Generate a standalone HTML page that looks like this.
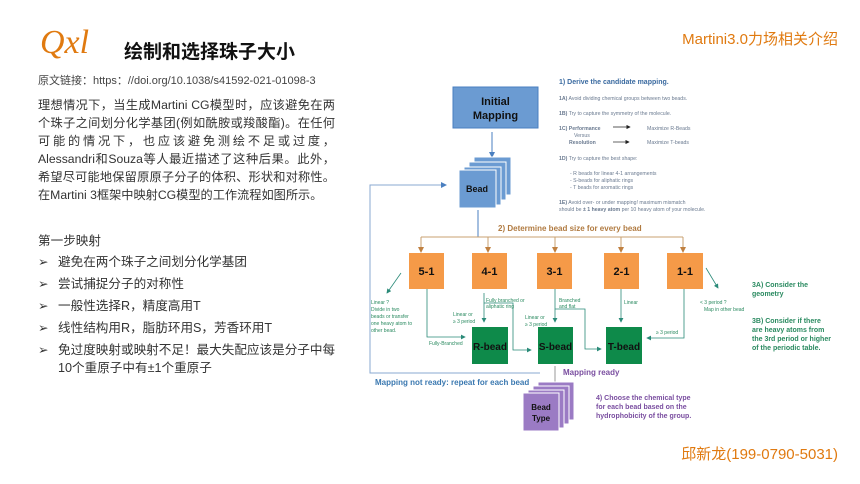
<!DOCTYPE html>
<html><head><meta charset="utf-8"><style>
html,body{margin:0;padding:0;background:#fff;width:860px;height:484px;overflow:hidden;position:relative;font-family:"Liberation Sans","Noto Sans CJK SC",sans-serif;}
.a{position:absolute;white-space:nowrap;}
.p{position:absolute;left:38px;top:96px;width:297px;font-size:12.2px;line-height:18px;color:#333;}
.p div{height:18px;white-space:nowrap;overflow:visible;text-align:justify;text-align-last:justify;}
.li{position:absolute;left:38px;font-size:12.6px;color:#333;}
.li b{font-weight:normal;display:inline-block;width:20px;}
</style></head><body>
<div class="a" style="left:40px;top:24px;font-family:'Liberation Serif',serif;font-style:italic;font-size:34px;color:#e07a10;">Qxl</div>
<div class="a" style="left:124px;top:37px;font-size:19px;font-weight:bold;color:#111;">绘制和选择珠子大小</div>
<div class="a" style="left:38px;top:72px;font-size:11px;color:#444;">原文链接：https：//doi.org/10.1038/s41592-021-01098-3</div>
<div class="p">
<div>理想情况下，当生成Martini CG模型时，应该避免在两</div>
<div>个珠子之间划分化学基团(例如酰胺或羧酸酯)。在任何</div>
<div>可能的情况下，也应该避免测绘不足或过度，</div>
<div>Alessandri和Souza等人最近描述了这种后果。此外，</div>
<div>希望尽可能地保留原原子分子的体积、形状和对称性。</div>
<div style="text-align-last:left">在Martini 3框架中映射CG模型的工作流程如图所示。</div>
</div>
<div class="li" style="top:230px;">第一步映射</div>
<div class="li" style="top:251px;"><b>➢</b>避免在两个珠子之间划分化学基团</div>
<div class="li" style="top:273px;"><b>➢</b>尝试捕捉分子的对称性</div>
<div class="li" style="top:295px;"><b>➢</b>一般性选择R，精度高用T</div>
<div class="li" style="top:317px;"><b>➢</b>线性结构用R，脂肪环用S，芳香环用T</div>
<div class="li" style="top:339px;"><b>➢</b>免过度映射或映射不足！最大失配应该是分子中每</div>
<div class="li" style="top:357px;"><b style="width:20px"></b>10个重原子中有±1个重原子</div>
<div class="a" style="right:22px;top:28px;font-size:15px;color:#e07a10;">Martini3.0力场相关介绍</div>
<div class="a" style="right:22px;top:443px;font-size:15px;color:#e07a10;">邱新龙(199-0790-5031)</div>

<svg class="a" style="left:0;top:0" width="860" height="484" viewBox="0 0 860 484" font-family="Liberation Sans, sans-serif">
<defs>
<marker id="ab" markerWidth="6" markerHeight="6" refX="5" refY="3" orient="auto"><path d="M0,0L6,3L0,6z" fill="#4a7fc0"/></marker>
<marker id="ao" markerWidth="6" markerHeight="6" refX="5" refY="3" orient="auto"><path d="M0,0L6,3L0,6z" fill="#c08040"/></marker>
<marker id="ag" markerWidth="6" markerHeight="6" refX="5" refY="3" orient="auto"><path d="M0,0L6,3L0,6z" fill="#2a8a78"/></marker>
<marker id="ak" markerWidth="6" markerHeight="6" refX="5" refY="3" orient="auto"><path d="M0,0L6,3L0,6z" fill="#222"/></marker>
</defs>
<rect x="453" y="87" width="85" height="41" fill="#6b9bd2" stroke="#4a7fc0"/>
<text x="495.5" y="105" font-size="11" font-weight="bold" text-anchor="middle" fill="#111">Initial</text>
<text x="495.5" y="119" font-size="11" font-weight="bold" text-anchor="middle" fill="#111">Mapping</text>
<line x1="492" y1="132" x2="492" y2="157" stroke="#4a7fc0" marker-end="url(#ab)"/>
<g fill="#6b9bd2" stroke="#fff" stroke-width="1">
<rect x="474" y="157" width="37" height="38"/><rect x="469" y="162" width="37" height="38"/><rect x="464" y="167" width="37" height="38"/><rect x="459" y="170" width="37" height="38"/>
</g>
<text x="477" y="192" font-size="9" font-weight="bold" text-anchor="middle" fill="#111">Bead</text>
<line x1="478" y1="210" x2="478" y2="237" stroke="#4a7fc0"/>
<polyline points="540,373 370,373 370,185 446,185" fill="none" stroke="#8aa8d0" marker-end="url(#ab)"/>
<text x="375" y="385" font-size="8" font-weight="bold" fill="#3a78b0">Mapping not ready: repeat for each bead</text>
<line x1="421" y1="237" x2="683" y2="237" stroke="#c8a070"/>
<text x="498" y="231" font-size="8" font-weight="bold" fill="#b07a40">2) Determine bead size for every bead</text>
<g stroke="#c8a070" marker-end="url(#ao)">
<line x1="421" y1="237" x2="421" y2="252"/><line x1="488" y1="237" x2="488" y2="252"/><line x1="555" y1="237" x2="555" y2="252"/><line x1="621" y1="237" x2="621" y2="252"/><line x1="683" y1="237" x2="683" y2="252"/>
</g>
<g fill="#f59a48">
<rect x="409" y="253" width="35" height="36"/><rect x="472" y="253" width="35" height="36"/><rect x="537" y="253" width="35" height="36"/><rect x="604" y="253" width="35" height="36"/><rect x="667" y="253" width="36" height="36"/>
</g>
<g font-size="11" font-weight="bold" text-anchor="middle" fill="#111">
<text x="426.5" y="275">5-1</text><text x="489.5" y="275">4-1</text><text x="554.5" y="275">3-1</text><text x="621.5" y="275">2-1</text><text x="685" y="275">1-1</text>
</g>
<g fill="#0e8a4a"><rect x="472" y="327" width="36" height="37"/><rect x="538" y="327" width="35" height="37"/><rect x="606" y="327" width="36" height="37"/></g>
<g font-size="10" font-weight="bold" text-anchor="middle" fill="#111">
<text x="490" y="350">R-bead</text><text x="555.5" y="350">S-bead</text><text x="624" y="350">T-bead</text>
</g>
<g stroke="#2a8a78" fill="none" marker-end="url(#ag)" stroke-width="0.8">
<line x1="401" y1="273" x2="387" y2="293"/>
<polyline points="427,289 427,337 465,337"/>
<line x1="484" y1="293" x2="484" y2="322"/>
<polyline points="484,303 513,303 513,350 531,350"/>
<line x1="555" y1="289" x2="555" y2="322"/>
<polyline points="555,309 585,309 585,349 601,349"/>
<line x1="621" y1="289" x2="621" y2="322"/>
<polyline points="684,289 684,338 647,338"/>
<line x1="706" y1="268" x2="718" y2="288"/>
</g>
<g font-size="5" fill="#2a8a60">
<text x="371" y="304">Linear ?</text><text x="371" y="311">Divide in two</text><text x="371" y="318">beads or transfer</text><text x="371" y="325">one heavy atom to</text><text x="371" y="332">other bead.</text>
<text x="429" y="345">Fully-Branched</text>
<text x="486" y="302">Fully branched or</text><text x="486" y="308">aliphatic ring</text>
<text x="453" y="316">Linear or</text><text x="453" y="323">≥ 3   period</text>
<text x="559" y="302">Branched</text><text x="559" y="308">and flat</text>
<text x="525" y="319">Linear or</text><text x="525" y="326">≥ 3   period</text>
<text x="624" y="304">Linear</text>
<text x="700" y="304">&lt; 3   period ?</text><text x="704" y="311">Map in other bead</text>
<text x="656" y="334">≥ 3   period</text>
</g>
<g font-size="7" font-weight="bold" fill="#2a8a60">
<text x="752" y="287">3A) Consider the</text><text x="752" y="296">geometry</text>
<text x="752" y="323">3B) Consider if there</text><text x="752" y="332">are heavy atoms from</text><text x="752" y="341">the 3rd period or higher</text><text x="752" y="350">of the periodic table.</text>
</g>
<line x1="555" y1="366" x2="555" y2="385" stroke="#999"/>
<text x="563" y="375" font-size="8" font-weight="bold" fill="#7a4ea0">Mapping ready</text>
<g fill="#9b7bc4" stroke="#fff"><rect x="538" y="382" width="36" height="38"/><rect x="533" y="386" width="36" height="38"/><rect x="528" y="390" width="36" height="38"/><rect x="523" y="393" width="36" height="38"/></g>
<text x="541" y="410" font-size="8" font-weight="bold" text-anchor="middle" fill="#111">Bead</text>
<text x="541" y="421" font-size="8" font-weight="bold" text-anchor="middle" fill="#111">Type</text>
<g font-size="7" font-weight="bold" fill="#7a4ea0">
<text x="596" y="400">4) Choose the chemical type</text><text x="596" y="409">for each bead based on the</text><text x="596" y="418">hydrophobicity of the group.</text>
</g>
<text x="559" y="84" font-size="7" font-weight="bold" fill="#3a6aa0">1) Derive the candidate mapping.</text>
<g font-size="5.2" fill="#6a7a90">
<text x="559" y="100"><tspan font-weight="bold">1A)</tspan> Avoid dividing chemical groups between two beads.</text>
<text x="559" y="115"><tspan font-weight="bold">1B)</tspan> Try to capture the symmetry of the molecule.</text>
<text x="559" y="130"><tspan font-weight="bold">1C) Performance</tspan></text>
<text x="574" y="137">Versus</text>
<text x="569" y="144" font-weight="bold">Resolution</text>
<text x="647" y="130">Maximize R-Beads</text>
<text x="647" y="144">Maximize T-beads</text>
<text x="559" y="160"><tspan font-weight="bold">1D)</tspan> Try to capture the best shape:</text>
<text x="570" y="175">- R beads for linear 4-1 arrangements</text>
<text x="570" y="182">- S-beads for aliphatic rings</text>
<text x="570" y="189">- T beads for aromatic rings</text>
<text x="559" y="204"><tspan font-weight="bold">1E)</tspan> Avoid over- or under mapping! maximum mismatch</text>
<text x="559" y="211">should be <tspan font-weight="bold">± 1 heavy atom</tspan> per 10 heavy atom of your molecule.</text>
</g>
<g stroke="#222" stroke-width="0.7" marker-end="url(#ak)"><line x1="613" y1="127" x2="630" y2="127"/><line x1="613" y1="142" x2="629" y2="142"/></g>
</svg>
</body></html>
